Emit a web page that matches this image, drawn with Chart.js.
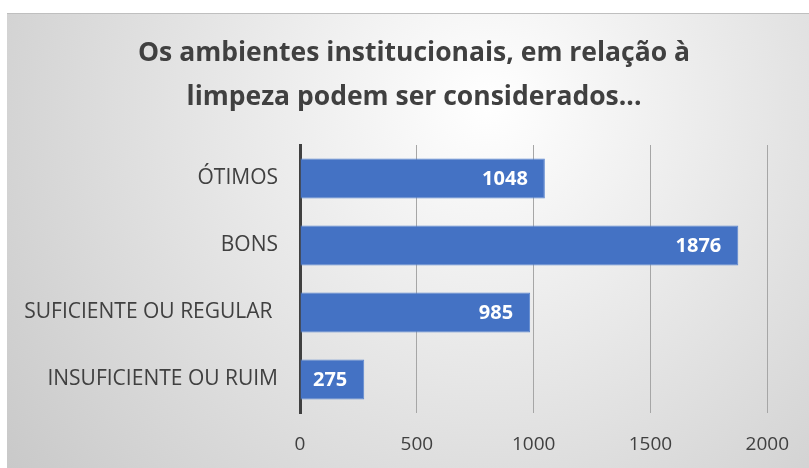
<!DOCTYPE html>
<html>
<head>
<meta charset="utf-8">
<script src="https://cdn.jsdelivr.net/npm/chart.js@4.4.1/dist/chart.umd.min.js"></script>
<style>
  html, body { margin: 0; padding: 0; background: #fff; }
  #wrap { position: absolute; left: 7px; top: 13px; width: 802px; height: 455px; }
</style>
</head>
<body>
<div id="wrap"><canvas id="chart"></canvas></div>
<script>
// dados do gráfico
const categorias = ['ÓTIMOS', 'BONS', 'SUFICIENTE OU REGULAR ', 'INSUFICIENTE OU RUIM'];
const respostas = [1048, 1876, 985, 275];
const tituloLinhas = ['Os ambientes institucionais, em relação à', 'limpeza podem ser considerados...'];

const fonte = '"Open Sans", Lato, sans-serif';

// fundo com degradê radial
const fundo = {
    id: 'fundo',
    beforeDraw(chart) {
        const c = chart.ctx;
        const w = chart.width, h = chart.height;
        const g = c.createRadialGradient(w * 0.6, h * 0.2, 0, w * 0.6, h * 0.2, w * 0.75);
        g.addColorStop(0, '#ffffff');
        g.addColorStop(1, '#c9c9c9');
        c.save();
        c.fillStyle = g;
        c.fillRect(0, 0, w, h);
        c.strokeStyle = '#bfbfbf';
        c.lineWidth = 1;
        c.beginPath();
        c.moveTo(0, 0.5);
        c.lineTo(w, 0.5);
        c.stroke();
        c.restore();
    }
};

// título centrado no quadro (não na área do gráfico)
const titulo = {
    id: 'titulo',
    afterDraw(chart) {
        const c = chart.ctx;
        c.save();
        c.fillStyle = '#404040';
        c.font = 'bold 26.5px ' + fonte;
        c.textAlign = 'center';
        c.textBaseline = 'middle';
        tituloLinhas.forEach(function (linha, i) {
            c.fillText(linha, 407, 40 + i * 44);
        });
        c.restore();
    }
};

// rótulos dos valores dentro das barras
const rotulos = {
    id: 'rotulos',
    afterDatasetsDraw(chart) {
        const c = chart.ctx;
        c.save();
        c.fillStyle = '#ffffff';
        c.font = 'bold 20px ' + fonte;
        c.textAlign = 'right';
        c.textBaseline = 'middle';
        chart.getDatasetMeta(0).data.forEach(function (bar, i) {
            c.fillText(respostas[i], bar.x - 17, bar.y + 1);
        });
        c.restore();
    }
};

let ctx = document.getElementById('chart').getContext('2d');

let grafico = new Chart(ctx, {
    type: 'bar',
    data: {
        labels: categorias,
        datasets: [{
            data: respostas,
            backgroundColor: '#4472c4',
            borderColor: '#5b86d0',
            borderWidth: 1,
            categoryPercentage: 1,
            barPercentage: 0.6
        }]
    },
    options: {
        indexAxis: 'y',
        responsive: true,
        maintainAspectRatio: false,
        animation: false,
        layout: { padding: { left: 0, right: 40, top: 132, bottom: 0 } },
        plugins: {
            legend: { display: false },
            tooltip: { enabled: false },
            title: { display: false }
        },
        scales: {
            x: {
                min: 0,
                max: 2000,
                ticks: {
                    stepSize: 500,
                    color: '#404040',
                    font: { family: fonte, size: 19 },
                    padding: 20,
                    callback: function (v) { return String(v); }
                },
                grid: { color: '#a6a6a6', lineWidth: 1, drawTicks: false },
                border: { display: false },
                afterFit(scale) { scale.height = 55; }
            },
            y: {
                ticks: {
                    color: '#404040',
                    font: { family: fonte, size: 21 },
                    padding: 22
                },
                grid: { display: false, drawTicks: false },
                border: { display: true, color: '#404040', width: 3 },
                afterFit(scale) { scale.width = 293; }
            }
        }
    },
    plugins: [fundo, titulo, rotulos]
});
</script>
</body>
</html>
